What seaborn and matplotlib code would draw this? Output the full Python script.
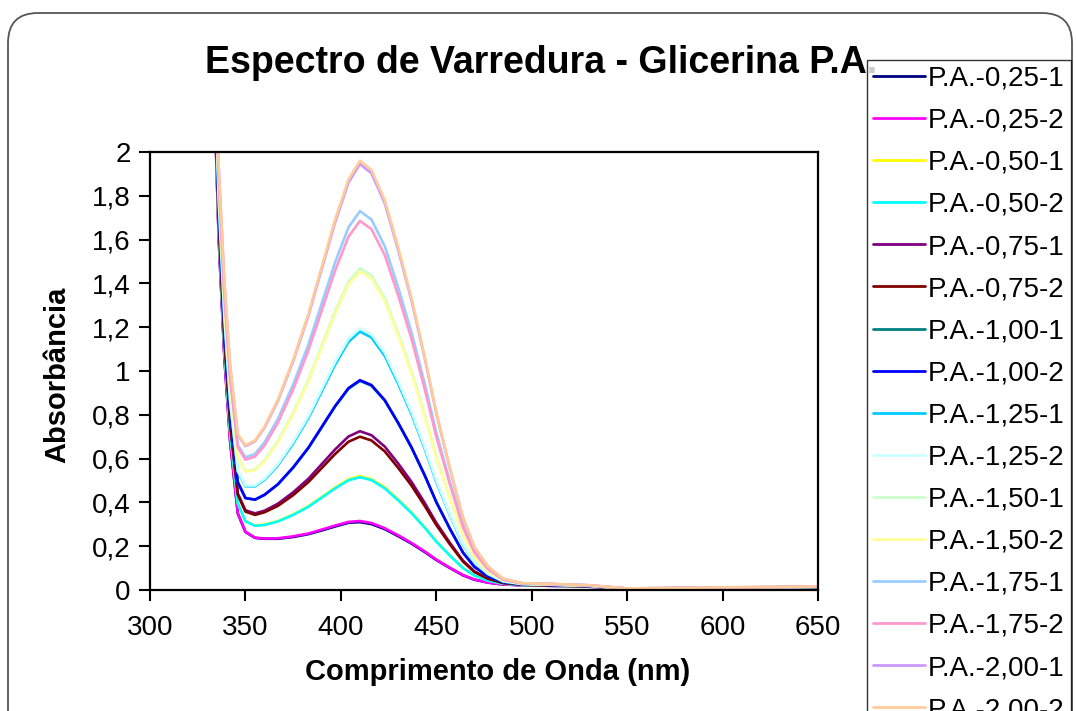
import pandas as pd
import matplotlib
matplotlib.use("Agg")
import matplotlib.pyplot as plt
from matplotlib.patches import FancyBboxPatch
from matplotlib.ticker import FixedLocator, FixedFormatter
import seaborn as sns

# wavelength grid (nm) and absorbance
wavelength = [333, 336, 339, 342, 346, 350, 355, 360, 367, 375, 383, 390, 397, 404, 410, 416,
              423, 430, 437, 444, 450, 457, 464, 470, 477, 485, 495, 510, 530, 550, 600, 650]

pa_025_1 = [2.454, 1.604, 1.057, 0.677, 0.349, 0.265, 0.238, 0.234, 0.234, 0.242, 0.255, 0.272, 0.290, 0.307, 0.310, 0.301,
            0.278, 0.246, 0.212, 0.173, 0.137, 0.101, 0.067, 0.047, 0.034, 0.025, 0.022, 0.019, 0.015, 0.005, 0.009, 0.013]
pa_025_2 = [2.455, 1.605, 1.058, 0.678, 0.351, 0.266, 0.239, 0.235, 0.236, 0.245, 0.258, 0.276, 0.294, 0.311, 0.315, 0.306,
            0.282, 0.250, 0.215, 0.176, 0.139, 0.102, 0.068, 0.048, 0.034, 0.025, 0.022, 0.019, 0.015, 0.005, 0.009, 0.013]
pa_050_1 = [2.496, 1.646, 1.101, 0.721, 0.396, 0.315, 0.295, 0.299, 0.315, 0.345, 0.383, 0.425, 0.468, 0.506, 0.520, 0.506,
            0.469, 0.414, 0.354, 0.286, 0.223, 0.159, 0.101, 0.066, 0.044, 0.029, 0.023, 0.020, 0.016, 0.006, 0.009, 0.013]
pa_050_2 = [2.495, 1.645, 1.100, 0.720, 0.395, 0.314, 0.293, 0.297, 0.313, 0.343, 0.380, 0.422, 0.464, 0.501, 0.515, 0.502,
            0.464, 0.410, 0.351, 0.284, 0.221, 0.158, 0.100, 0.066, 0.043, 0.029, 0.023, 0.020, 0.016, 0.006, 0.009, 0.013]
pa_075_1 = [2.537, 1.687, 1.144, 0.764, 0.441, 0.364, 0.350, 0.362, 0.394, 0.446, 0.508, 0.575, 0.642, 0.701, 0.725, 0.707,
            0.655, 0.578, 0.494, 0.397, 0.307, 0.217, 0.134, 0.085, 0.053, 0.032, 0.024, 0.021, 0.017, 0.006, 0.009, 0.013]
pa_075_2 = [2.532, 1.682, 1.139, 0.759, 0.435, 0.358, 0.343, 0.355, 0.384, 0.433, 0.493, 0.557, 0.621, 0.677, 0.700, 0.683,
            0.633, 0.558, 0.477, 0.383, 0.297, 0.210, 0.130, 0.082, 0.052, 0.032, 0.024, 0.021, 0.017, 0.006, 0.009, 0.013]
pa_100_1 = [2.583, 1.733, 1.192, 0.812, 0.491, 0.420, 0.412, 0.434, 0.482, 0.558, 0.648, 0.743, 0.838, 0.919, 0.955, 0.933,
            0.865, 0.762, 0.650, 0.521, 0.401, 0.281, 0.170, 0.105, 0.063, 0.036, 0.026, 0.023, 0.018, 0.006, 0.010, 0.014]
pa_100_2 = [2.584, 1.734, 1.193, 0.813, 0.492, 0.420, 0.413, 0.435, 0.483, 0.560, 0.650, 0.745, 0.840, 0.922, 0.958, 0.936,
            0.867, 0.764, 0.652, 0.523, 0.402, 0.282, 0.171, 0.106, 0.063, 0.036, 0.026, 0.023, 0.018, 0.006, 0.010, 0.014]
pa_125_1 = [2.628, 1.778, 1.239, 0.859, 0.541, 0.474, 0.473, 0.503, 0.569, 0.669, 0.785, 0.907, 1.029, 1.133, 1.180, 1.153,
            1.069, 0.942, 0.803, 0.643, 0.493, 0.344, 0.206, 0.126, 0.073, 0.039, 0.027, 0.024, 0.019, 0.006, 0.010, 0.014]
pa_125_2 = [2.631, 1.781, 1.242, 0.862, 0.544, 0.478, 0.477, 0.508, 0.575, 0.677, 0.794, 0.918, 1.042, 1.147, 1.195, 1.168,
            1.083, 0.954, 0.813, 0.651, 0.500, 0.348, 0.209, 0.127, 0.074, 0.040, 0.027, 0.024, 0.019, 0.006, 0.010, 0.014]
pa_150_1 = [2.686, 1.836, 1.300, 0.920, 0.605, 0.543, 0.551, 0.593, 0.681, 0.811, 0.962, 1.119, 1.276, 1.409, 1.470, 1.437,
            1.333, 1.174, 1.000, 0.799, 0.612, 0.425, 0.253, 0.152, 0.086, 0.044, 0.029, 0.025, 0.020, 0.006, 0.011, 0.015]
pa_150_2 = [2.683, 1.833, 1.297, 0.917, 0.602, 0.540, 0.547, 0.588, 0.675, 0.804, 0.953, 1.108, 1.263, 1.395, 1.455, 1.422,
            1.320, 1.162, 0.990, 0.791, 0.606, 0.421, 0.250, 0.150, 0.086, 0.044, 0.029, 0.025, 0.020, 0.006, 0.011, 0.015]
pa_175_1 = [2.738, 1.888, 1.355, 0.975, 0.662, 0.606, 0.621, 0.674, 0.781, 0.938, 1.121, 1.309, 1.497, 1.656, 1.730, 1.692,
            1.570, 1.382, 1.177, 0.940, 0.719, 0.498, 0.294, 0.175, 0.098, 0.048, 0.030, 0.027, 0.021, 0.007, 0.011, 0.015]
pa_175_2 = [2.729, 1.879, 1.346, 0.966, 0.652, 0.595, 0.609, 0.660, 0.764, 0.916, 1.094, 1.276, 1.459, 1.613, 1.685, 1.648,
            1.529, 1.346, 1.147, 0.915, 0.700, 0.486, 0.287, 0.171, 0.096, 0.047, 0.030, 0.027, 0.021, 0.007, 0.011, 0.015]
pa_200_1 = [2.781, 1.931, 1.400, 1.020, 0.709, 0.657, 0.679, 0.741, 0.863, 1.044, 1.252, 1.466, 1.679, 1.860, 1.945, 1.903,
            1.766, 1.554, 1.323, 1.056, 0.807, 0.558, 0.329, 0.194, 0.108, 0.051, 0.031, 0.028, 0.022, 0.007, 0.012, 0.016]
pa_200_2 = [2.784, 1.934, 1.403, 1.023, 0.712, 0.661, 0.683, 0.746, 0.869, 1.051, 1.261, 1.477, 1.692, 1.874, 1.960, 1.918,
            1.780, 1.566, 1.334, 1.064, 0.813, 0.563, 0.331, 0.196, 0.108, 0.052, 0.031, 0.028, 0.022, 0.007, 0.012, 0.016]

series_names = ["P.A.-0,25-1", "P.A.-0,25-2", "P.A.-0,50-1", "P.A.-0,50-2",
                "P.A.-0,75-1", "P.A.-0,75-2", "P.A.-1,00-1", "P.A.-1,00-2",
                "P.A.-1,25-1", "P.A.-1,25-2", "P.A.-1,50-1", "P.A.-1,50-2",
                "P.A.-1,75-1", "P.A.-1,75-2", "P.A.-2,00-1", "P.A.-2,00-2"]
series_values = [pa_025_1, pa_025_2, pa_050_1, pa_050_2, pa_075_1, pa_075_2, pa_100_1, pa_100_2,
                 pa_125_1, pa_125_2, pa_150_1, pa_150_2, pa_175_1, pa_175_2, pa_200_1, pa_200_2]

# excel 2003 line colours
colors = ["#000080", "#FF00FF", "#FFFF00", "#00FFFF", "#800080", "#800000", "#008080", "#0000FF",
          "#00CCFF", "#CCFFFF", "#CCFFCC", "#FFFF99", "#99CCFF", "#FF99CC", "#CC99FF", "#FFCC99"]

x_ticks = [300, 350, 400, 450, 500, 550, 600, 650]
y_ticks = [0, 0.2, 0.4, 0.6, 0.8, 1.0, 1.2, 1.4, 1.6, 1.8, 2.0]
y_tick_labels = ["0", "0,2", "0,4", "0,6", "0,8", "1", "1,2", "1,4", "1,6", "1,8", "2"]

rows = []
for name, vals in zip(series_names, series_values):
    for w, a in zip(wavelength, vals):
        rows.append({"wl": w, "abs": a, "serie": name})
df = pd.DataFrame(rows)

sns.set_theme(style="white")
plt.rcParams["font.family"] = ["Liberation Sans", "DejaVu Sans"]
plt.rcParams["text.color"] = "black"

W, H = 1076, 711
fig = plt.figure(figsize=(W / 100, H / 100), dpi=100)
fig.patch.set_facecolor("white")
ax = fig.add_axes([150 / W, 1 - 590 / H, (818 - 150) / W, (590 - 152) / H])

sns.lineplot(data=df, x="wl", y="abs", hue="serie", hue_order=series_names,
             palette=colors, sort=False, linewidth=1.9, ax=ax, legend=True)
handles, labels = ax.get_legend_handles_labels()
ax.get_legend().remove()

ax.set_xlim(300, 650)
ax.set_ylim(0, 2)
ax.xaxis.set_major_locator(FixedLocator(x_ticks))
ax.yaxis.set_major_locator(FixedLocator(y_ticks))
ax.yaxis.set_major_formatter(FixedFormatter(y_tick_labels))
ax.tick_params(axis="both", direction="out", length=8, width=1.5, color="black",
               labelsize=20, labelcolor="black", bottom=True, left=True)
ax.tick_params(axis="x", pad=10)
ax.tick_params(axis="y", pad=6)
for sp in ax.spines.values():
    sp.set_color("black")
    sp.set_linewidth(1.6)

ax.set_xlabel("")
ax.set_ylabel("")
fig.text(498 / W, 1 - 672 / H, "Comprimento de Onda (nm)", ha="center", va="center",
         fontsize=21, fontweight="bold", color="black")
fig.text(57 / W, 1 - 375 / H, "Absorbância", ha="center", va="center", rotation=90,
         fontsize=21, fontweight="bold", color="black")
fig.text(541 / W, 1 - 63 / H, "Espectro de Varredura - Glicerina P.A.", ha="center", va="center",
         fontsize=27, fontweight="bold", color="black")

# rounded border of the slide
border = FancyBboxPatch((0.08, -1.0), 10.64, 7.98,
                        boxstyle="round,pad=0,rounding_size=0.3",
                        transform=fig.dpi_scale_trans, fill=False,
                        edgecolor="#555555", linewidth=1.3)
fig.patches.append(border)

leg = fig.legend(handles, labels, loc="upper left", bbox_to_anchor=(867 / W, 1 - 60 / H),
                 fontsize=20, frameon=True, fancybox=False, edgecolor="black",
                 labelspacing=0.58, handlelength=1.9, handletextpad=0.1,
                 borderpad=0.2, borderaxespad=0)
leg.get_frame().set_linewidth(1.0)
for line in leg.get_lines():
    line.set_linewidth(2.0)

fig.savefig("out.png", dpi=100)
